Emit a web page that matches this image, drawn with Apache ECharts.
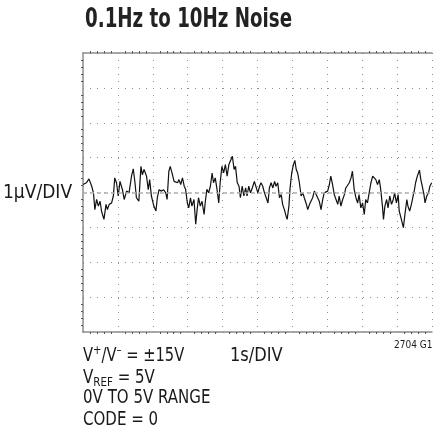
<!DOCTYPE html>
<html>
<head>
<meta charset="utf-8">
<script src="https://cdn.jsdelivr.net/npm/echarts@6/dist/echarts.min.js"></script>
<style>
html,body{margin:0;padding:0;background:#fff;}
#c{width:433px;height:430px;}
</style>
</head>
<body>
<div id="c"></div>
<script>
// time (s) and noise (µV)
var times = [0.00,0.10,0.17,0.25,0.30,0.34,0.39,0.44,0.49,0.53,0.60,0.66,0.70,0.75,0.82,0.87,0.91,0.96,1.01,1.06,1.13,1.18,1.25,1.32,1.39,1.44,1.49,1.53,1.60,1.66,1.70,1.75,1.82,1.87,1.91,1.96,2.03,2.09,2.13,2.18,2.25,2.31,2.37,2.41,
2.46,2.50,2.55,2.61,2.66,2.71,2.75,2.80,2.85,2.90,2.94,2.99,3.03,3.08,3.12,3.18,3.23,3.27,3.31,3.36,3.41,3.47,3.50,3.55,3.60,3.65,3.70,3.74,3.79,3.84,3.89,3.93,3.98,4.03,4.08,4.13,4.18,4.23,4.28,4.33,4.37,4.42,4.47,4.51,4.56,4.61,4.66,4.70,4.75,4.80,4.85,
4.91,4.96,5.01,5.06,5.10,5.15,5.20,5.25,5.30,5.34,5.39,5.44,5.49,5.53,5.58,5.63,5.68,5.72,5.77,5.82,5.85,5.90,5.93,5.98,6.03,6.07,6.11,6.15,6.20,6.25,6.30,6.34,6.39,6.44,6.49,6.53,6.58,6.63,6.68,6.73,6.77,6.82,6.87,6.91,6.96,7.01,7.06,7.10,7.15,
7.20,7.25,7.30,7.34,7.39,7.44,7.49,7.53,7.58,7.63,7.68,7.72,7.77,7.82,7.87,7.91,7.96,8.01,8.06,8.10,8.15,8.20,8.25,8.30,8.34,8.39,8.44,8.49,8.53,8.58,8.61,8.65,8.70,8.74,8.79,8.84,8.89,8.93,8.98,9.03,9.06,9.11,9.15,9.18,9.23,9.28,9.31,9.36,9.41,9.46,9.49,9.53,9.58,9.64,9.68,9.72,9.77,9.80,9.85,9.90,9.94,9.99];
var noise = [0.23,0.28,0.39,0.18,-0.01,-0.49,-0.20,-0.39,-0.25,-0.53,-0.77,-0.34,-0.49,-0.34,-0.30,-0.10,0.42,0.28,-0.10,0.32,0.08,-0.20,0.04,-0.01,0.47,0.68,0.28,-0.15,-0.25,0.75,0.51,0.66,0.47,0.08,0.37,-0.10,-0.39,-0.53,-0.15,0.08,0.04,0.08,-0.01,-0.20,
0.61,0.75,0.56,0.32,0.37,0.28,0.37,0.23,0.42,0.18,0.09,-0.30,-0.44,-0.15,-0.39,-0.20,-0.91,-0.49,-0.15,-0.39,-0.25,-0.63,-0.30,0.09,-0.01,0.18,0.56,0.28,0.42,0.09,-0.30,0.28,0.75,0.56,0.80,0.47,0.80,0.85,1.04,0.66,0.75,0.28,0.18,-0.15,0.18,-0.10,0.13,-0.10,0.18,-0.01,0.13,
0.32,0.37,-0.01,0.18,0.28,0.18,-0.01,-0.15,-0.30,0.13,0.28,0.13,0.32,0.18,0.28,-0.15,-0.06,-0.34,-0.49,-0.68,-0.77,-0.39,0.09,0.56,0.80,0.92,0.66,0.56,0.28,-0.10,-0.01,-0.15,-0.30,-0.49,-0.34,-0.34,-0.15,0.04,-0.06,-0.01,-0.25,-0.49,-0.20,-0.01,-0.06,0.04,0.23,0.47,0.23,
-0.06,-0.20,-0.34,-0.10,-0.39,-0.20,-0.06,0.13,0.09,0.28,0.42,0.61,0.09,-0.15,-0.30,-0.06,-0.44,-0.30,-0.63,-0.20,-0.30,-0.01,0.28,0.47,0.47,0.37,0.23,0.37,0.09,-0.39,-0.77,-0.39,-0.20,-0.44,-0.10,-0.34,-0.20,-0.01,-0.30,-0.06,-0.53,-0.72,-0.68,-1.01,-0.58,-0.20,-0.39,-0.53,-0.34,-0.10,0.04,0.28,0.47,0.64,0.37,0.18,-0.06,-0.30,-0.10,-0.01,0.18,0.28];
var xRange = [0, 10];   // 10 divisions, 1 s/DIV
var yRange = [-4, 4];   // 8 divisions, 1 µV/DIV
var titleText = '0.1Hz to 10Hz Noise';
var yUnitText = '1µV/DIV';
var xUnitText = '1s/DIV';
var figId = '2704 G16';

var pairs = times.map(function(t, i){ return [t, noise[i]]; });

var FONT = '"Liberation Sans Narrow","DejaVu Sans Condensed","Liberation Sans",sans-serif';
var gridCol = '#8f8f8f';
var borderCol = '#8c8c8c';
var txtCol = '#1a1a1a';
var dotted = {color: gridCol, width: 1, type: [1, 6]};

var chart = echarts.init(document.getElementById('c'), null, {renderer: 'canvas'});
chart.setOption({
  animation: false,
  backgroundColor: '#fff',
  grid: {left: 83, top: 53, width: 349, height: 279, containLabel: false},
  xAxis: [{
    type: 'value', min: xRange[0], max: xRange[1], interval: 1, position: 'bottom',
    axisLine: {show: true, onZero: false, lineStyle: {color: borderCol, width: 1.5}},
    axisTick: {show: false},
    minorTick: {show: true, splitNumber: 5, length: 2, lineStyle: {color: '#555', width: 1}},
    axisLabel: {show: false},
    splitLine: {show: true, lineStyle: dotted}
  }, {
    type: 'value', min: xRange[0], max: xRange[1], interval: 1, position: 'top',
    axisLine: {show: true, onZero: false, lineStyle: {color: borderCol, width: 1.5}},
    axisTick: {show: false},
    minorTick: {show: true, splitNumber: 5, length: 2, lineStyle: {color: '#555', width: 1}},
    axisLabel: {show: false},
    splitLine: {show: false}
  }],
  yAxis: {
    type: 'value', min: yRange[0], max: yRange[1], interval: 1,
    axisLine: {show: true, onZero: false, lineStyle: {color: borderCol, width: 1.5}},
    axisTick: {show: false},
    minorTick: {show: true, splitNumber: 5, length: 2, lineStyle: {color: '#555', width: 1}},
    axisLabel: {show: false},
    splitLine: {show: true, lineStyle: dotted}
  },
  series: [{
    type: 'line', data: pairs, showSymbol: false, symbol: 'none',
    lineStyle: {color: '#111', width: 1.2},
    markLine: {
      silent: true, symbol: 'none', label: {show: false},
      lineStyle: {color: '#b0b0b0', width: 1.5, type: [4, 3]},
      data: [{yAxis: 0}]
    },
    z: 3
  }],
  graphic: [
    {type: 'text', x: 85, y: 7, scaleX: 0.78, style: {text: titleText, font: 'bold 26px ' + FONT, fill: '#222'}},
    {type: 'text', x: 3, y: 184, scaleX: 1.0, style: {text: yUnitText, font: '19px ' + FONT, fill: txtCol}},
    {type: 'text', x: 230, y: 347, scaleX: 0.95, style: {text: xUnitText, font: '19px ' + FONT, fill: txtCol}},
    {type: 'text', x: 394, y: 340, scaleX: 1.0, style: {text: figId, font: '10px ' + FONT, fill: txtCol}},
    {type: 'text', x: 83, y: 344, scaleX: 0.86, style: {
      rich: {
        a: {fontFamily: FONT, fontSize: 19, fill: txtCol, lineHeight: 22, verticalAlign: 'bottom'},
        s: {fontFamily: FONT, fontSize: 13, fill: txtCol, lineHeight: 22, verticalAlign: 'top'}
      },
      text: '{a|V}{s|+}{a|/V}{s|\u2013}{a| = \u00b115V}'
    }},
    {type: 'text', x: 83, y: 369, scaleX: 0.88, style: {
      rich: {
        a: {fontFamily: FONT, fontSize: 19, fill: txtCol, lineHeight: 20, verticalAlign: 'top'},
        b: {fontFamily: FONT, fontSize: 13, fill: txtCol, lineHeight: 20, verticalAlign: 'bottom'}
      },
      text: '{a|V}{b|REF}{a| = 5V}'
    }},
    {type: 'text', x: 83, y: 389, scaleX: 0.88, style: {text: '0V TO 5V RANGE', font: '19px ' + FONT, fill: txtCol}},
    {type: 'text', x: 83, y: 411, scaleX: 0.88, style: {text: 'CODE = 0', font: '19px ' + FONT, fill: txtCol}}
  ]
});
</script>
</body>
</html>
